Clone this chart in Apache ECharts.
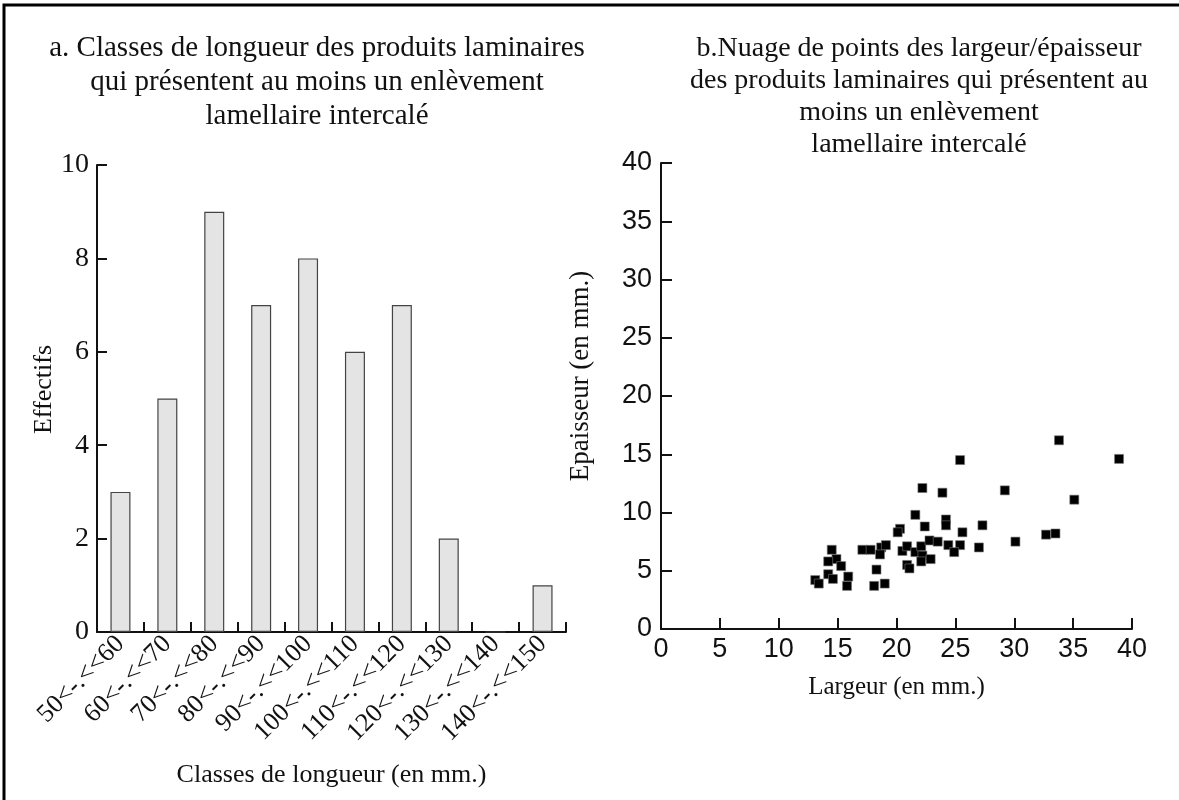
<!DOCTYPE html>
<html>
<head>
<meta charset="utf-8">
<script src="https://cdn.jsdelivr.net/npm/echarts@6/dist/echarts.min.js"></script>
<style>
  html, body { margin: 0; padding: 0; background: #fff; }
  #chart { width: 1179px; height: 800px; }
</style>
</head>
<body>
<div id="chart"></div>
<script>
// Length classes (mm) and their counts
const lengthClasses = ['50<-.<<60', '60<-.<<70', '70<-.<<80', '80<-.<<90', '90<-.<<100',
  '100<-.<<110', '110<-.<<120', '120<-.<<130', '130<-.<<140', '140<-.<<150'];
const classCounts = [3, 5, 9, 7, 8, 6, 7, 2, 0, 1];

// Width / thickness pairs (mm)
const largeur = [25.4, 22.2, 23.9, 21.6, 24.2, 24.2, 22.4, 27.3, 20.3, 20.1, 25.6,
  14.5, 17.1, 17.8, 18.7, 19.1, 18.6, 20.5, 20.9, 21.6, 22.1, 22.8, 23.5, 24.4, 25.4,
  24.9, 27.0, 22.2, 22.1, 22.9, 20.9, 21.1, 14.9, 14.2, 15.3, 14.2, 14.6, 13.1, 13.4,
  15.9, 15.8, 18.3, 18.1, 19.0, 33.8, 38.9, 29.2, 35.1, 30.1, 32.7, 33.5];
const epaisseur = [14.5, 12.1, 11.7, 9.8, 9.4, 8.9, 8.8, 8.9, 8.6, 8.3, 8.3,
  6.8, 6.8, 6.8, 7.0, 7.2, 6.4, 6.7, 7.1, 6.6, 7.1, 7.6, 7.5, 7.2, 7.2,
  6.6, 7.0, 6.3, 5.8, 6.0, 5.5, 5.2, 6.0, 5.8, 5.4, 4.7, 4.3, 4.2, 3.9,
  4.5, 3.7, 5.1, 3.7, 3.9, 16.2, 14.6, 11.9, 11.1, 7.5, 8.1, 8.2];

const countTicks = [0, 2, 4, 6, 8, 10];
const mmTicks = [0, 5, 10, 15, 20, 25, 30, 35, 40];

const SERIF = "'Liberation Serif', 'Times New Roman', serif";
const SANS = "'Liberation Sans', Arial, sans-serif";
const INK = '#111';

const points = largeur.map((x, i) => [x, epaisseur[i]]);

const axisLine = { show: true, lineStyle: { color: INK, width: 2 } };
const axisTick = { show: true, inside: true, length: 11, lineStyle: { color: INK, width: 2 } };

const chart = echarts.init(document.getElementById('chart'), null, { renderer: 'canvas' });

chart.setOption({
  backgroundColor: '#fff',
  animation: false,
  title: [
    {
      text: 'a. Classes de longueur des produits laminaires\nqui présentent au moins un enlèvement\nlamellaire intercalé',
      left: 312, top: 26, textAlign: 'center',
      textStyle: { fontFamily: SERIF, fontWeight: 'normal', fontSize: 29, lineHeight: 34, color: INK }
    },
    {
      text: 'b.Nuage de points des largeur/épaisseur\ndes produits laminaires qui présentent au\nmoins un enlèvement\nlamellaire intercalé',
      left: 914, top: 28, textAlign: 'center',
      textStyle: { fontFamily: SERIF, fontWeight: 'normal', fontSize: 28, lineHeight: 32, color: INK }
    }
  ],
  graphic: [
    {
      type: 'rect', silent: true,
      shape: { x: 4, y: 5, width: 1190, height: 810 },
      style: { fill: 'none', stroke: '#000', lineWidth: 3 }
    }
  ],
  grid: [
    { left: 97, top: 165, width: 469, height: 467 },
    { left: 661, top: 163, width: 471, height: 466 }
  ],
  xAxis: [
    {
      gridIndex: 0, type: 'category', data: lengthClasses, boundaryGap: true,
      axisLine, axisTick: Object.assign({}, axisTick, { length: 10 }),
      axisLabel: { rotate: 45, margin: 8, fontFamily: SERIF, fontSize: 26, color: INK, interval: 0 },
      splitLine: { show: false },
      name: 'Classes de longueur (en mm.)', nameLocation: 'middle', nameGap: 130,
      nameTextStyle: { fontFamily: SERIF, fontSize: 26, color: INK }
    },
    {
      gridIndex: 1, type: 'value', min: mmTicks[0], max: mmTicks[mmTicks.length - 1], interval: 5,
      axisLine, axisTick,
      axisLabel: { margin: 7, fontFamily: SANS, fontSize: 27, color: INK },
      splitLine: { show: false },
      name: 'Largeur (en mm.)', nameLocation: 'middle', nameGap: 46,
      nameTextStyle: { fontFamily: SERIF, fontSize: 25, color: INK }
    }
  ],
  yAxis: [
    {
      gridIndex: 0, type: 'value', min: countTicks[0], max: countTicks[countTicks.length - 1], interval: 2,
      axisLine, axisTick: Object.assign({}, axisTick, { length: 10 }),
      axisLabel: { margin: 8, fontFamily: SERIF, fontSize: 28, color: INK },
      splitLine: { show: false },
      name: 'Effectifs', nameLocation: 'middle', nameGap: 38,
      nameTextStyle: { fontFamily: SERIF, fontSize: 26, color: INK, padding: [0, 0, 0, 18] }
    },
    {
      gridIndex: 1, type: 'value', min: mmTicks[0], max: mmTicks[mmTicks.length - 1], interval: 5,
      axisLine, axisTick,
      axisLabel: { margin: 9, fontFamily: SANS, fontSize: 27, color: INK },
      splitLine: { show: false },
      name: 'Epaisseur (en mm.)', nameLocation: 'middle', nameGap: 67,
      nameTextStyle: { fontFamily: SERIF, fontSize: 27, color: INK, padding: [0, 0, 0, 40] }
    }
  ],
  series: [
    {
      type: 'bar', xAxisIndex: 0, yAxisIndex: 0,
      data: classCounts, barWidth: 20,
      itemStyle: { color: '#e4e4e4', borderColor: '#444', borderWidth: 1.2 }
    },
    {
      type: 'scatter', xAxisIndex: 1, yAxisIndex: 1,
      data: points, symbol: 'rect', symbolSize: 9,
      itemStyle: { color: '#000', borderColor: '#777', borderWidth: 0.6, opacity: 1 }
    }
  ]
});
</script>
</body>
</html>
